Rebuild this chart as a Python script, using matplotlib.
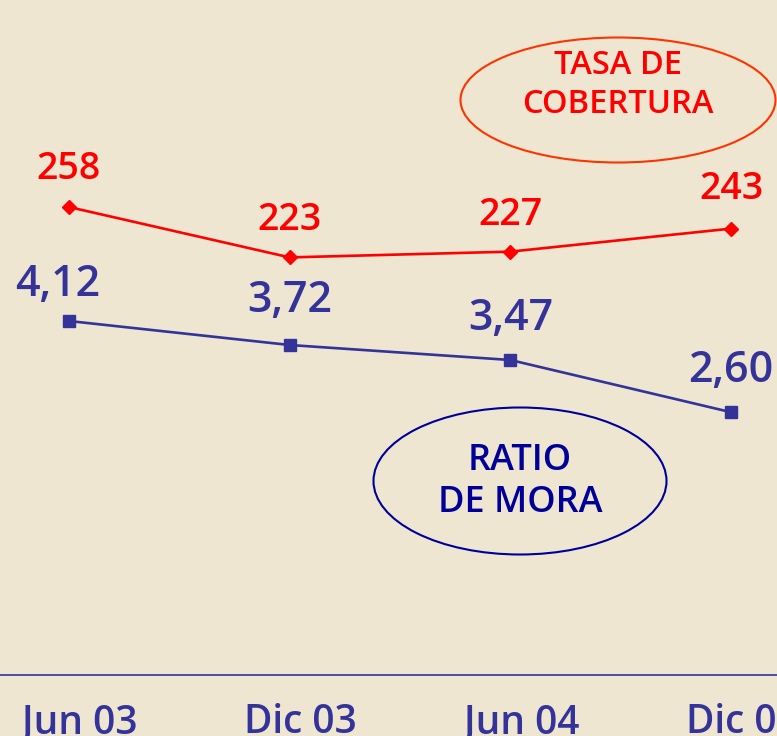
import matplotlib
matplotlib.use("Agg")
import matplotlib.pyplot as plt
from matplotlib.patches import Ellipse
import matplotlib.transforms as mtransforms

periods = ["Jun 03", "Dic 03", "Jun 04", "Dic 04"]
cobertura = [258, 223, 227, 243]
mora = [4.12, 3.72, 3.47, 2.60]
mora_labels = ["4,12", "3,72", "3,47", "2,60"]

BG = "#EEE6D1"
RED = "#FF0000"
BLUE = "#333399"
NAVY = "#000099"

plt.rcParams['font.family'] = ['Open Sans', 'DejaVu Sans']

W, H = 777, 736
fig = plt.figure(figsize=(W / 100, H / 100), dpi=100, facecolor=BG)
ax = fig.add_axes([0, 1 - 675 / H, 1, 675 / H])
ax.set_facecolor(BG)
ax2 = ax.twinx()

x = list(range(len(periods)))
ax.set_xlim(-69 / 221, 3 + 46 / 221)
ax.set_ylim(258 - (675 - 207) / 1.44, 258 + 207 / 1.44)
ax2.set_ylim(4.12 - (675 - 321) / 60, 4.12 + 321 / 60)

ax.plot(x, cobertura, color=RED, lw=1.9, marker='D', ms=7, zorder=3)
ax2.plot(x, mora, color=BLUE, lw=1.9, marker='s', ms=8, zorder=3)

red_offsets = [(0, 38), (0, 37), (0, 37), (0, 40)]
for xi, v, off in zip(x, cobertura, red_offsets):
    ax.annotate(str(v), (xi, v), xytext=off, textcoords='offset pixels',
                ha='center', va='center', color=RED, fontsize=27,
                fontweight='semibold')

blue_offsets = [(-11, 36), (0, 44), (0, 42), (0, 42)]
for xi, v, lab, off in zip(x, mora, mora_labels, blue_offsets):
    ax2.annotate(lab, (xi, v), xytext=off, textcoords='offset pixels',
                 ha='center', va='center', color=BLUE, fontsize=31,
                 fontweight='semibold')

for a in (ax, ax2):
    for s in ('top', 'right', 'left', 'bottom'):
        a.spines[s].set_visible(False)
    a.tick_params(left=False, right=False, labelleft=False, labelright=False)
ax.spines['bottom'].set_visible(True)
ax.spines['bottom'].set_color(BLUE)
ax.spines['bottom'].set_linewidth(1.2)

ax.set_xticks(x)
ax.set_xticklabels(periods, color=BLUE, fontsize=28, fontweight='semibold')
ax.tick_params(axis='x', length=0, pad=20)
shift = mtransforms.ScaledTranslation(11 / 100, 0, fig.dpi_scale_trans)
for lbl in ax.get_xticklabels():
    lbl.set_transform(lbl.get_transform() + shift)

# Ellipse callouts
e1 = Ellipse((618 / W, 1 - 100 / H), 315 / W, 125 / H, transform=fig.transFigure,
             fill=False, edgecolor="#FF3300", lw=1.5)
fig.add_artist(e1)
fig.text(618 / W, 1 - 85 / H, "TASA DE\nCOBERTURA", ha='center', va='center',
         color=RED, fontsize=23.5, fontweight='semibold', linespacing=1.25)

e2 = Ellipse((520 / W, 1 - 481 / H), 293 / W, 147 / H, transform=fig.transFigure,
             fill=False, edgecolor=NAVY, lw=1.5)
fig.add_artist(e2)
fig.text(520 / W, 1 - 482 / H, "RATIO\nDE MORA", ha='center', va='center',
         color=NAVY, fontsize=26, fontweight='semibold', linespacing=1.2)

fig.savefig("out.png", dpi=100, facecolor=BG)
